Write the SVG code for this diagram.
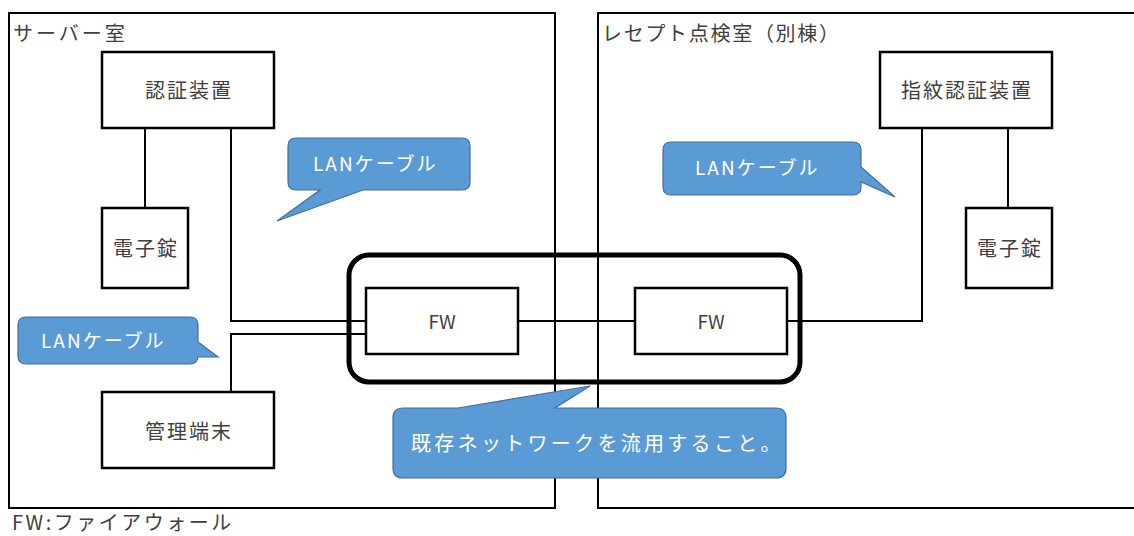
<svg xmlns="http://www.w3.org/2000/svg" width="1134" height="536" viewBox="0 0 1134 536">
<style>
text{font-family:"Noto Sans CJK JP","Noto Sans",sans-serif;fill:#404040}
.room{fill:none;stroke:#000;stroke-width:2}
.box{fill:#fff;stroke:#000;stroke-width:2.5}
.lbl{font-size:20px;letter-spacing:2px;text-anchor:middle;dominant-baseline:central}
.fw{font-size:19px;text-anchor:middle;dominant-baseline:central}
.wire{fill:none;stroke:#000;stroke-width:2}
.call{fill:#5B9BD5;stroke:#41719C;stroke-width:1.2}
.ct{fill:#fff;font-size:19px;letter-spacing:2px;dominant-baseline:central}
.rt{font-size:20px;letter-spacing:1.7px;dominant-baseline:central}
</style>
<g id="rooms">
<g id="server-room"><rect class="room" x="9" y="13" width="546" height="495"/><text class="rt" x="13" y="32" style="letter-spacing:3px">サーバー室</text></g>
<g id="receipt-room"><rect class="room" x="598" y="13" width="545" height="495"/><text class="rt" x="602" y="32">レセプト点検室（別棟）</text></g>
</g>
<g id="connectors">
<polyline class="wire" points="145,128 145,208"/>
<polyline class="wire" points="231,128 231,321 366,321"/>
<polyline class="wire" points="231,392 231,334 366,334"/>
<polyline class="wire" points="518,321 635,321"/>
<polyline class="wire" points="787,321 922,321 922,128"/>
<polyline class="wire" points="1008,128 1008,208"/>
</g>
<g id="existing-network"><rect x="349" y="255" width="451" height="127" rx="20" fill="none" stroke="#000" stroke-width="5"/></g>
<g id="auth"><rect class="box" x="102" y="52" width="172" height="76"/><text class="lbl" x="189" y="89">認証装置</text></g>
<g id="lock-left"><rect class="box" x="102" y="208" width="86" height="80"/><text class="lbl" x="146" y="247">電子錠</text></g>
<g id="terminal"><rect class="box" x="102" y="392" width="172" height="76"/><text class="lbl" x="189" y="430">管理端末</text></g>
<g id="fw-left"><rect class="box" x="366" y="288" width="152" height="66"/><text class="fw" x="442" y="320">FW</text></g>
<g id="fw-right"><rect class="box" x="635" y="288" width="152" height="66"/><text class="fw" x="711" y="320">FW</text></g>
<g id="fp-auth"><rect class="box" x="880" y="52" width="172" height="76"/><text class="lbl" x="967" y="89">指紋認証装置</text></g>
<g id="lock-right"><rect class="box" x="966" y="208" width="86" height="80"/><text class="lbl" x="1010" y="247">電子錠</text></g>
<g id="callout-lan1"><path class="call" d="M296,138 H462 Q470,138 470,146 V182 Q470,190 462,190 H363 L277,221 L320,190 H296 Q288,190 288,182 V146 Q288,138 296,138 Z"/><text class="ct" x="313" y="162">LANケーブル</text></g>
<g id="callout-lan2"><path class="call" d="M26,317 H190 Q198,317 198,325 V342 L218,357 L198,357 Q197,364 190,364 H26 Q18,364 18,356 V325 Q18,317 26,317 Z"/><text class="ct" x="41" y="339">LANケーブル</text></g>
<g id="callout-lan3"><path class="call" d="M671,142 H853 Q861,142 861,150 V167 L895,197 L861,182 V187 Q861,195 853,195 H671 Q663,195 663,187 V150 Q663,142 671,142 Z"/><text class="ct" x="695" y="166">LANケーブル</text></g>
<g id="callout-net"><path class="call" d="M403,408 H458 L590,386 L555,408 H776 Q786,408 786,418 V468 Q786,478 776,478 H403 Q393,478 393,468 V418 Q393,408 403,408 Z"/><text class="ct" x="411" y="442" style="font-size:20px;letter-spacing:3.3px">既存ネットワークを流用すること。</text></g>
<text class="rt" x="12" y="521" style="letter-spacing:2.5px">FW:ファイアウォール</text>
</svg>
